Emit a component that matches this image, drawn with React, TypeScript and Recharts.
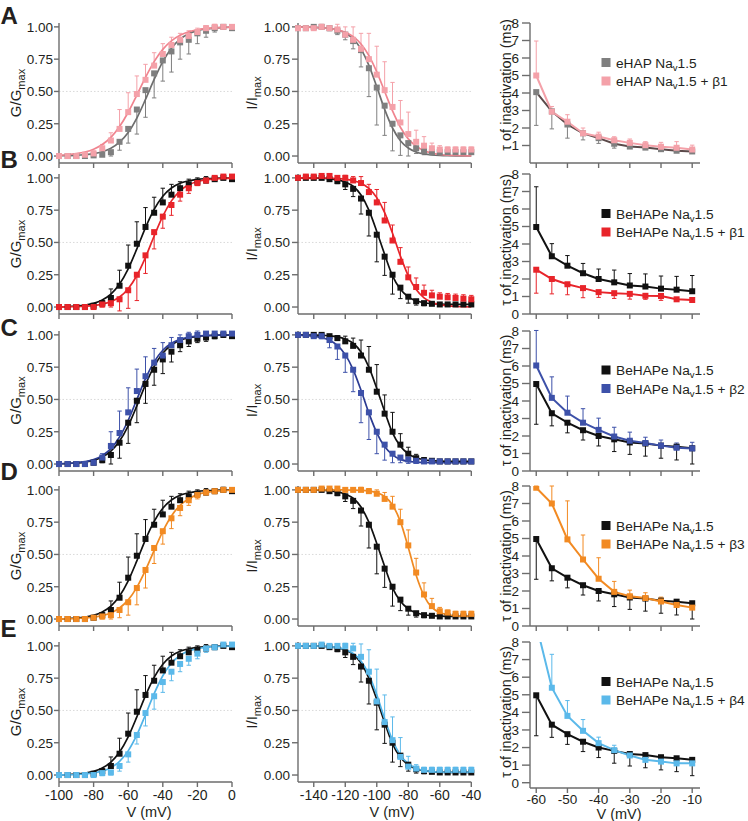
import React from "react";
import { ComposedChart, Line, XAxis, YAxis, ErrorBar, ReferenceLine } from "recharts";

const FONT = '"Liberation Sans", Arial, Helvetica, sans-serif';
const AXIS = "#6d6d6d";
const TEXT = "#231f20";

// voltage steps (mV)
const actVolts = [-100, -95, -90, -85, -80, -75, -70, -65, -60, -55, -50, -45, -40, -35, -30, -25, -20, -15, -10, -5, 0];
const inactVolts = [-150, -145, -140, -135, -130, -125, -120, -115, -110, -105, -100, -95, -90, -85, -80, -75, -70, -65, -60, -55, -50, -45, -40];
const tauVolts = [-60, -55, -50, -45, -40, -35, -30, -25, -20, -15, -10];

const actTicks = [-100, -80, -60, -40, -20, 0];
const inactTicks = [-140, -120, -100, -80, -60, -40];
const tauTicks = [-60, -50, -40, -30, -20, -10];
const normTicks = [0, 0.25, 0.5, 0.75, 1];
const tauYTicks = [0, 1, 2, 3, 4, 5, 6, 7, 8];
const tauYTicksNoZero = [1, 2, 3, 4, 5, 6, 7, 8];

// eHAP NaV1.5
const eHapAct = [0, 0, 0, 0, 0.005, 0.01, 0.03, 0.11, 0.21, 0.36, 0.51, 0.64, 0.74, 0.81, 0.88, 0.9, 0.95, 0.97, 0.99, 1.0, 0.99];
const eHapActSem = [0, 0, 0, 0, 0.01, 0.01, 0.03, 0.065, 0.11, 0.19, 0.21, 0.19, 0.16, 0.16, 0.13, 0.11, 0.08, 0.05, 0.03, 0.02, 0.01];
const eHapActFit = [0.002, 0.003, 0.005, 0.01, 0.018, 0.033, 0.06, 0.107, 0.182, 0.294, 0.438, 0.593, 0.731, 0.835, 0.905, 0.947, 0.971, 0.984, 0.991, 0.995, 0.998];
const eHapInact = [0.99, 0.99, 1.0, 1.0, 0.99, 0.97, 0.94, 0.89, 0.82, 0.68, 0.53, 0.39, 0.25, 0.16, 0.1, 0.06, 0.04, 0.03, 0.03, 0.03, 0.03, 0.03, 0.03];
const eHapInactSem = [0, 0, 0.01, 0.01, 0.02, 0.03, 0.04, 0.06, 0.13, 0.22, 0.29, 0.23, 0.21, 0.155, 0.1, 0.04, 0.03, 0.02, 0.02, 0.01, 0.01, 0.01, 0.01];
const eHapInactFit = [1.0, 0.999, 0.997, 0.994, 0.988, 0.976, 0.953, 0.908, 0.828, 0.702, 0.536, 0.361, 0.217, 0.119, 0.062, 0.031, 0.016, 0.008, 0.004, 0.002, 0.001, 0.001, 0.0];
const eHapTau = [4.05, 2.95, 2.2, 1.7, 1.42, 1.1, 0.94, 0.88, 0.79, 0.7, 0.66];
const eHapTauSem = [1.9, 1.0, 0.78, 0.38, 0.3, 0.25, 0.1, 0.08, 0.08, 0.06, 0.06];

// eHAP NaV1.5 + b1
const eHapB1Act = [0, 0, 0, 0.01, 0.02, 0.06, 0.12, 0.21, 0.34, 0.48, 0.59, 0.7, 0.79, 0.86, 0.9, 0.93, 0.96, 0.99, 1.0, 1.0, 1.0];
const eHapB1ActSem = [0, 0, 0, 0.01, 0.02, 0.03, 0.06, 0.15, 0.15, 0.14, 0.12, 0.1, 0.08, 0.06, 0.05, 0.04, 0.03, 0.02, 0.02, 0.01, 0.01];
const eHapB1ActFit = [0.006, 0.01, 0.018, 0.031, 0.053, 0.089, 0.144, 0.228, 0.339, 0.472, 0.609, 0.731, 0.826, 0.892, 0.935, 0.962, 0.978, 0.987, 0.993, 0.996, 0.998];
const eHapB1Inact = [0.99, 0.99, 0.99, 1.0, 0.99, 0.98, 0.94, 0.9, 0.83, 0.75, 0.63, 0.51, 0.38, 0.26, 0.17, 0.11, 0.08, 0.06, 0.05, 0.05, 0.05, 0.05, 0.05];
const eHapB1InactSem = [0.01, 0.01, 0.02, 0.02, 0.02, 0.04, 0.06, 0.1, 0.12, 0.2, 0.22, 0.22, 0.19, 0.17, 0.17, 0.09, 0.07, 0.04, 0.03, 0.02, 0.02, 0.02, 0.02];
const eHapB1InactFit = [0.999, 0.998, 0.996, 0.993, 0.988, 0.977, 0.958, 0.924, 0.867, 0.777, 0.651, 0.5, 0.349, 0.223, 0.133, 0.076, 0.042, 0.023, 0.012, 0.007, 0.004, 0.002, 0.001];
const eHapB1Tau = [5.0, 2.93, 2.36, 1.7, 1.51, 1.3, 1.15, 1.02, 0.93, 0.87, 0.77];
const eHapB1TauSem = [1.97, 0.3, 0.4, 0.3, 0.25, 0.2, 0.22, 0.2, 0.25, 0.35, 0.25];

// BeHAPe NaV1.5 (control, rows B-E)
const beAct = [0, 0, 0, 0, 0.01, 0.03, 0.07, 0.165, 0.32, 0.49, 0.62, 0.73, 0.81, 0.87, 0.92, 0.95, 0.97, 0.98, 0.99, 1.0, 0.99];
const beActSem = [0, 0, 0, 0.01, 0.01, 0.02, 0.07, 0.12, 0.16, 0.17, 0.15, 0.12, 0.11, 0.08, 0.05, 0.04, 0.03, 0.03, 0.02, 0.02, 0.01];
const beActFit = [0.002, 0.004, 0.008, 0.015, 0.028, 0.054, 0.1, 0.178, 0.296, 0.45, 0.615, 0.756, 0.858, 0.922, 0.958, 0.978, 0.989, 0.994, 0.997, 0.998, 0.999];
const beInact = [1.0, 1.0, 1.0, 1.0, 0.99, 0.975, 0.95, 0.915, 0.84, 0.73, 0.56, 0.39, 0.25, 0.15, 0.08, 0.045, 0.03, 0.025, 0.02, 0.02, 0.02, 0.02, 0.02];
const beInactSem = [0, 0, 0.01, 0.01, 0.01, 0.02, 0.04, 0.06, 0.12, 0.18, 0.21, 0.145, 0.15, 0.085, 0.05, 0.03, 0.02, 0.01, 0.01, 0.01, 0.01, 0.01, 0.01];
const beInactFit = [1.0, 0.999, 0.998, 0.997, 0.993, 0.985, 0.968, 0.935, 0.867, 0.75, 0.585, 0.407, 0.241, 0.137, 0.079, 0.048, 0.033, 0.026, 0.023, 0.021, 0.021, 0.02, 0.02];
const beTau = [4.97, 3.3, 2.76, 2.33, 2.0, 1.81, 1.63, 1.57, 1.45, 1.39, 1.3];
const beTauSem = [2.3, 0.72, 0.58, 0.56, 0.57, 0.7, 0.68, 0.72, 0.72, 0.76, 0.9];

// + b1
const b1Act = [0, 0, 0, 0, 0, 0.02, 0.03, 0.06, 0.13, 0.25, 0.4, 0.58, 0.7, 0.79, 0.87, 0.92, 0.96, 0.98, 1.0, 1.01, 1.01];
const b1ActSem = [0, 0, 0, 0, 0.01, 0.02, 0.03, 0.09, 0.14, 0.2, 0.14, 0.13, 0.09, 0.08, 0.05, 0.04, 0.02, 0.02, 0.02, 0.02, 0.01];
const b1ActFit = [0.001, 0.002, 0.003, 0.006, 0.011, 0.022, 0.042, 0.078, 0.142, 0.244, 0.385, 0.55, 0.704, 0.822, 0.9, 0.946, 0.972, 0.985, 0.992, 0.996, 0.998];
const b1Inact = [1.0, 1.01, 1.01, 1.015, 1.015, 1.0, 1.0, 0.98, 0.96, 0.89, 0.81, 0.67, 0.515, 0.35, 0.23, 0.155, 0.11, 0.09, 0.08, 0.075, 0.07, 0.065, 0.06];
const b1InactSem = [0.01, 0.01, 0.01, 0.01, 0.01, 0.01, 0.02, 0.03, 0.05, 0.06, 0.1, 0.14, 0.12, 0.11, 0.08, 0.07, 0.06, 0.04, 0.03, 0.03, 0.03, 0.03, 0.03];
const b1InactFit = [1.0, 1.0, 0.999, 0.999, 0.998, 0.995, 0.99, 0.979, 0.959, 0.919, 0.847, 0.731, 0.571, 0.394, 0.242, 0.135, 0.071, 0.036, 0.018, 0.009, 0.004, 0.002, 0.001];
const b1Tau = [2.53, 2.0, 1.7, 1.48, 1.25, 1.19, 1.15, 1.04, 1.03, 0.84, 0.8];
const b1TauSem = [1.34, 0.85, 0.6, 0.55, 0.3, 0.3, 0.3, 0.2, 0.25, 0.1, 0.1];

// + b2
const b2Act = [0, 0, 0, 0, 0.01, 0.05, 0.14, 0.24, 0.4, 0.565, 0.68, 0.785, 0.84, 0.92, 0.96, 0.99, 1.0, 1.01, 1.01, 1.01, 1.01];
const b2ActSem = [0, 0, 0, 0.01, 0.01, 0.03, 0.11, 0.17, 0.19, 0.17, 0.15, 0.11, 0.1, 0.06, 0.04, 0.03, 0.03, 0.015, 0.015, 0.015, 0.015];
const b2ActFit = [0.002, 0.005, 0.009, 0.018, 0.034, 0.065, 0.119, 0.209, 0.339, 0.5, 0.661, 0.791, 0.881, 0.935, 0.966, 0.982, 0.991, 0.995, 0.998, 0.999, 0.999];
const b2Inact = [1.0, 1.0, 0.99, 0.99, 0.96, 0.91, 0.84, 0.73, 0.55, 0.4, 0.25, 0.15, 0.08, 0.05, 0.035, 0.025, 0.02, 0.02, 0.02, 0.02, 0.02, 0.02, 0.02];
const b2InactSem = [0, 0, 0.01, 0.02, 0.06, 0.1, 0.13, 0.17, 0.23, 0.21, 0.17, 0.12, 0.07, 0.04, 0.03, 0.02, 0.01, 0.01, 0.01, 0.01, 0.01, 0.01, 0.01];
const b2InactFit = [0.998, 0.995, 0.99, 0.979, 0.959, 0.919, 0.847, 0.731, 0.571, 0.394, 0.242, 0.135, 0.071, 0.036, 0.02, 0.015, 0.012, 0.011, 0.01, 0.01, 0.01, 0.01, 0.01];
const b2Tau = [6.03, 4.18, 3.33, 2.76, 2.35, 1.97, 1.73, 1.6, 1.45, 1.33, 1.29];
const b2TauSem = [2.0, 1.2, 0.95, 0.8, 0.67, 0.53, 0.49, 0.33, 0.32, 0.27, 0.35];

// + b3
const b3Act = [0, 0, 0, 0, 0.01, 0.02, 0.03, 0.07, 0.13, 0.24, 0.38, 0.55, 0.68, 0.78, 0.86, 0.92, 0.96, 0.98, 0.99, 1.0, 1.0];
const b3ActSem = [0, 0, 0, 0, 0.01, 0.02, 0.03, 0.06, 0.1, 0.13, 0.14, 0.12, 0.1, 0.08, 0.06, 0.04, 0.03, 0.02, 0.02, 0.02, 0.02];
const b3ActFit = [0.001, 0.002, 0.004, 0.008, 0.014, 0.026, 0.047, 0.085, 0.148, 0.245, 0.378, 0.531, 0.679, 0.798, 0.881, 0.932, 0.963, 0.98, 0.989, 0.994, 0.997];
const b3Inact = [1.0, 1.0, 1.0, 1.01, 1.01, 1.01, 1.0, 1.0, 1.0, 0.99, 0.97, 0.93, 0.87, 0.75, 0.57, 0.36, 0.19, 0.1, 0.06, 0.05, 0.04, 0.04, 0.04];
const b3InactSem = [0.01, 0.01, 0.01, 0.01, 0.01, 0.01, 0.01, 0.01, 0.02, 0.02, 0.03, 0.05, 0.08, 0.1, 0.12, 0.11, 0.09, 0.06, 0.03, 0.02, 0.02, 0.02, 0.02];
const b3InactFit = [1.0, 1.0, 1.0, 1.0, 1.0, 1.0, 0.999, 0.998, 0.996, 0.991, 0.979, 0.949, 0.883, 0.754, 0.554, 0.339, 0.18, 0.09, 0.05, 0.033, 0.025, 0.022, 0.021];
const b3Tau = [7.9, 7.0, 4.95, 3.8, 2.7, 1.95, 1.7, 1.6, 1.4, 1.2, 1.05];
const b3TauSem = [0.1, 1.0, 2.2, 1.4, 1.2, 0.6, 0.35, 0.3, 0.25, 0.2, 0.2];

// + b4
const b4Act = [0, 0, 0, 0, 0, 0.015, 0.02, 0.07, 0.16, 0.31, 0.48, 0.61, 0.72, 0.8, 0.86, 0.9, 0.94, 0.98, 0.99, 1.01, 1.01];
const b4ActSem = [0, 0, 0, 0, 0.01, 0.02, 0.02, 0.04, 0.06, 0.07, 0.1, 0.1, 0.08, 0.07, 0.06, 0.05, 0.04, 0.03, 0.02, 0.02, 0.02];
const b4ActFit = [0.001, 0.002, 0.004, 0.008, 0.016, 0.03, 0.057, 0.106, 0.187, 0.31, 0.467, 0.63, 0.769, 0.866, 0.926, 0.961, 0.979, 0.989, 0.994, 0.997, 0.999];
const b4Inact = [1.0, 1.0, 1.0, 1.01, 1.0, 1.0, 1.0, 0.98, 0.915, 0.8, 0.57, 0.41, 0.27, 0.14, 0.065, 0.05, 0.04, 0.04, 0.04, 0.04, 0.04, 0.04, 0.04];
const b4InactSem = [0.01, 0.01, 0.01, 0.01, 0.01, 0.01, 0.02, 0.04, 0.1, 0.17, 0.25, 0.21, 0.18, 0.15, 0.08, 0.03, 0.02, 0.02, 0.02, 0.02, 0.02, 0.02, 0.02];
const b4InactFit = [1.0, 0.999, 0.999, 0.997, 0.994, 0.987, 0.972, 0.942, 0.883, 0.778, 0.621, 0.435, 0.269, 0.154, 0.088, 0.053, 0.035, 0.027, 0.023, 0.021, 0.021, 0.02, 0.02];
const b4Tau = [9.0, 5.4, 3.8, 2.95, 2.25, 1.85, 1.55, 1.3, 1.2, 1.1, 1.1];
const b4TauSem = [0, 1.9, 0.87, 0.64, 0.34, 0.28, 0.2, 0.2, 0.15, 0.15, 0.15];

type Group = {
  cell: string;
  extra: string;
  marker: string;
  line: string;
  tauLine: string;
  act: number[]; actSem: number[]; actFit: number[];
  inact: number[]; inactSem: number[]; inactFit: number[];
  tau: number[]; tauSem: number[];
};

const eHap: Group = { cell: "eHAP", extra: "", marker: "#7f7f7f", line: "#6e6e6e", tauLine: "#5b4a4a",
  act: eHapAct, actSem: eHapActSem, actFit: eHapActFit, inact: eHapInact, inactSem: eHapInactSem, inactFit: eHapInactFit, tau: eHapTau, tauSem: eHapTauSem };
const eHapB1: Group = { cell: "eHAP", extra: " + β1", marker: "#f4a1a9", line: "#f0848f", tauLine: "#f4a1a9",
  act: eHapB1Act, actSem: eHapB1ActSem, actFit: eHapB1ActFit, inact: eHapB1Inact, inactSem: eHapB1InactSem, inactFit: eHapB1InactFit, tau: eHapB1Tau, tauSem: eHapB1TauSem };
const be: Group = { cell: "BeHAPe", extra: "", marker: "#111111", line: "#111111", tauLine: "#111111",
  act: beAct, actSem: beActSem, actFit: beActFit, inact: beInact, inactSem: beInactSem, inactFit: beInactFit, tau: beTau, tauSem: beTauSem };
const beB1: Group = { cell: "BeHAPe", extra: " + β1", marker: "#e8242a", line: "#e8242a", tauLine: "#e8242a",
  act: b1Act, actSem: b1ActSem, actFit: b1ActFit, inact: b1Inact, inactSem: b1InactSem, inactFit: b1InactFit, tau: b1Tau, tauSem: b1TauSem };
const beB2: Group = { cell: "BeHAPe", extra: " + β2", marker: "#3d51a9", line: "#2b3b93", tauLine: "#3d51a9",
  act: b2Act, actSem: b2ActSem, actFit: b2ActFit, inact: b2Inact, inactSem: b2InactSem, inactFit: b2InactFit, tau: b2Tau, tauSem: b2TauSem };
const beB3: Group = { cell: "BeHAPe", extra: " + β3", marker: "#f28a22", line: "#f08a22", tauLine: "#f28a22",
  act: b3Act, actSem: b3ActSem, actFit: b3ActFit, inact: b3Inact, inactSem: b3InactSem, inactFit: b3InactFit, tau: b3Tau, tauSem: b3TauSem };
const beB4: Group = { cell: "BeHAPe", extra: " + β4", marker: "#5bb9ea", line: "#4fb2e6", tauLine: "#5bb9ea",
  act: b4Act, actSem: b4ActSem, actFit: b4ActFit, inact: b4Inact, inactSem: b4InactSem, inactFit: b4InactFit, tau: b4Tau, tauSem: b4TauSem };

// which way the one-sided SEM bars point: [first group, second group]
const rows = [
  { letter: "A", top: 23, a: eHap, b: eHapB1, act: [false, true], inact: [false, true], tau: [false, true] },
  { letter: "B", top: 174, a: be, b: beB1, act: [true, false], inact: [false, true], tau: [true, false] },
  { letter: "C", top: 330.5, a: be, b: beB2, act: [false, true], inact: [true, false], tau: [false, true] },
  { letter: "D", top: 486, a: be, b: beB3, act: [true, false], inact: [false, true], tau: [false, true] },
  { letter: "E", top: 642, a: be, b: beB4, act: [true, false], inact: [false, true], tau: [false, true] },
];
const letterBase = [24, 168, 336, 480, 637];
const tauTitleShift = [-8, -4, 0, 0, 0];

type S = { mean: number[]; sem: number[]; up: boolean; fit?: number[]; marker: string; line: string };

const squareDot = (color: string, s = 6) => (props: any) => {
  const { cx, cy, index } = props;
  if (cx == null || cy == null) return <g key={"d" + index} />;
  return <rect key={"d" + index} x={cx - s / 2} y={cy - s / 2} width={s} height={s} fill={color} />;
};

type ChartProps = {
  plotLeft: number; plotTop: number; plotW: number; plotH: number; yw: number; xh: number;
  volts: number[]; xDomain: [number, number]; xTicks: number[];
  yDomain: [number, number]; yTicks: number[]; yFmt?: (v: number) => string;
  yTick: number; yTickMargin: number; xTickMargin: number; xFont: number; overflow: boolean;
  series: S[]; connect: boolean; half: boolean; xLabels: boolean;
};

function SmallChart(p: ChartProps) {
  const MT = 6;
  const MR = 16;
  const width = p.yw + p.plotW + MR;
  const height = MT + p.plotH + p.xh;
  const data = p.volts.map((v, i) => {
    const r: Record<string, any> = { v };
    p.series.forEach((s, k) => {
      r["m" + k] = s.mean[i];
      r["e" + k] = s.up ? [0, s.sem[i]] : [s.sem[i], 0];
      if (s.fit) r["f" + k] = s.fit[i];
    });
    return r;
  });
  return (
    <div style={{ position: "absolute", left: p.plotLeft - p.yw, top: p.plotTop - MT }}>
      <ComposedChart width={width} height={height} data={data} margin={{ top: MT, right: MR, bottom: 0, left: 0 }}>
        {p.half && <ReferenceLine y={0.5} stroke="#cfcfcf" strokeDasharray="1.5 2" strokeWidth={0.8} />}
        <XAxis
          type="number"
          dataKey="v"
          domain={p.xDomain}
          ticks={p.xTicks}
          interval={0}
          height={p.xh}
          axisLine={{ stroke: AXIS, strokeWidth: 1.4 }}
          tickLine={{ stroke: AXIS, strokeWidth: 1.4 }}
          tickSize={5}
          tickMargin={p.xTickMargin}
          tick={{ fontSize: p.xFont, fill: TEXT }}
          tickFormatter={p.xLabels ? (v: number) => String(v) : () => ""}
        />
        <YAxis
          type="number"
          domain={p.yDomain}
          ticks={p.yTicks}
          interval={0}
          width={p.yw}
          allowDataOverflow={p.overflow}
          axisLine={{ stroke: AXIS, strokeWidth: 1.4 }}
          tickLine={{ stroke: AXIS, strokeWidth: 1.4 }}
          tickSize={p.yTick}
          tickMargin={p.yTickMargin}
          tick={{ fontSize: 13.5, fill: TEXT }}
          tickFormatter={p.yFmt}
        />
        {p.series.map((s, k) => (
          <Line
            key={"m" + k}
            dataKey={"m" + k}
            type="linear"
            stroke={p.connect ? s.line : "none"}
            strokeWidth={2}
            dot={squareDot(s.marker)}
            activeDot={false}
            isAnimationActive={false}
          >
            <ErrorBar dataKey={"e" + k} width={2.2} stroke={s.marker} strokeWidth={1} direction="y" isAnimationActive={false} />
          </Line>
        ))}
        {p.series.map((s, k) =>
          s.fit ? (
            <Line
              key={"f" + k}
              dataKey={"f" + k}
              type="monotone"
              stroke={s.line}
              strokeWidth={1.7}
              dot={false}
              activeDot={false}
              isAnimationActive={false}
            />
          ) : null
        )}
      </ComposedChart>
    </div>
  );
}

const fmt2 = (v: number) => v.toFixed(2);

export default function App() {
  return (
    <div style={{ position: "absolute", left: 0, top: 0, width: 748, height: 821, background: "#fff", fontFamily: FONT, overflow: "hidden" }}>
      {rows.map((r, ri) => {
        const last = ri === rows.length - 1;
        return (
          <React.Fragment key={r.letter}>
            <SmallChart
              plotLeft={59} plotTop={r.top} plotW={173} plotH={140} yw={59} xh={last ? 26 : 8}
              volts={actVolts} xDomain={[-100, 0]} xTicks={actTicks}
              yDomain={[-0.054, 1.03]} yTicks={normTicks} yFmt={fmt2} yTick={5} yTickMargin={1} xTickMargin={3} xFont={14} overflow={false}
              connect={false} half={true} xLabels={last}
              series={[
                { mean: r.a.act, sem: r.a.actSem, up: r.act[0], fit: r.a.actFit, marker: r.a.marker, line: r.a.line },
                { mean: r.b.act, sem: r.b.actSem, up: r.act[1], fit: r.b.actFit, marker: r.b.marker, line: r.b.line },
              ]}
            />
            <SmallChart
              plotLeft={297.7} plotTop={r.top} plotW={173.3} plotH={140} yw={60} xh={last ? 26 : 8}
              volts={inactVolts} xDomain={[-150, -40]} xTicks={inactTicks}
              yDomain={[-0.054, 1.03]} yTicks={normTicks} yFmt={fmt2} yTick={6} yTickMargin={2} xTickMargin={3} xFont={14} overflow={false}
              connect={false} half={true} xLabels={last}
              series={[
                { mean: r.a.inact, sem: r.a.inactSem, up: r.inact[0], fit: r.a.inactFit, marker: r.a.marker, line: r.a.line },
                { mean: r.b.inact, sem: r.b.inactSem, up: r.inact[1], fit: r.b.inactFit, marker: r.b.marker, line: r.b.line },
              ]}
            />
            <SmallChart
              plotLeft={530} plotTop={r.top} plotW={170} plotH={last ? 146 : 140} yw={60} xh={last ? 22 : 8}
              volts={tauVolts} xDomain={[-62, -7.5]} xTicks={tauTicks}
              yDomain={last ? [-0.3, 8] : [0, 8]} yTicks={ri === 0 ? tauYTicksNoZero : tauYTicks} yTick={8} yTickMargin={3} xTickMargin={1} xFont={13.5} overflow={true}
              connect={true} half={false} xLabels={last}
              series={[
                { mean: r.a.tau, sem: r.a.tauSem, up: r.tau[0], marker: r.a.marker, line: r.a.tauLine },
                { mean: r.b.tau, sem: r.b.tauSem, up: r.tau[1], marker: r.b.marker, line: r.b.tauLine },
              ]}
            />
          </React.Fragment>
        );
      })}

      <svg width={748} height={821} style={{ position: "absolute", left: 0, top: 0, pointerEvents: "none" }} fontFamily={FONT}>
        {rows.map((r, ri) => {
          const cy = r.top + 70;
          return (
            <g key={"t" + r.letter} fill={TEXT}>
              <text x={0.5} y={letterBase[ri]} fontSize={24} fontWeight="bold">{r.letter}</text>
              <text transform={`translate(20.5,${cy}) rotate(-90)`} textAnchor="middle" fontSize={15}>
                G/G<tspan fontSize={11} dy={4}>max</tspan>
              </text>
              <text transform={`translate(257,${cy}) rotate(-90)`} textAnchor="middle" fontSize={15}>
                I/I<tspan fontSize={11} dy={4}>max</tspan>
              </text>
              <text transform={`translate(510.5,${cy + tauTitleShift[ri]}) rotate(-90)`} textAnchor="middle" fontSize={14.5}>
                τ of inactivation (ms)
              </text>
              {[r.a, r.b].map((g, k) => {
                const ly = r.top + 39.5 + k * 18.5;
                return (
                  <g key={"l" + k}>
                    <rect x={601.5} y={ly - 4.5} width={9} height={9} fill={g.marker} />
                    <text x={616} y={ly + 5} fontSize={13.7}>
                      {g.cell} Na<tspan fontSize={9.5} dy={3}>v</tspan>
                      <tspan dy={-3}>{"1.5" + g.extra}</tspan>
                    </text>
                  </g>
                );
              })}
            </g>
          );
        })}
        <g fill={TEXT} fontSize={14.5} textAnchor="middle">
          <text x={149} y={817}>V (mV)</text>
          <text x={392} y={817}>V (mV)</text>
          <text x={619} y={819}>V (mV)</text>
        </g>
      </svg>
    </div>
  );
}
